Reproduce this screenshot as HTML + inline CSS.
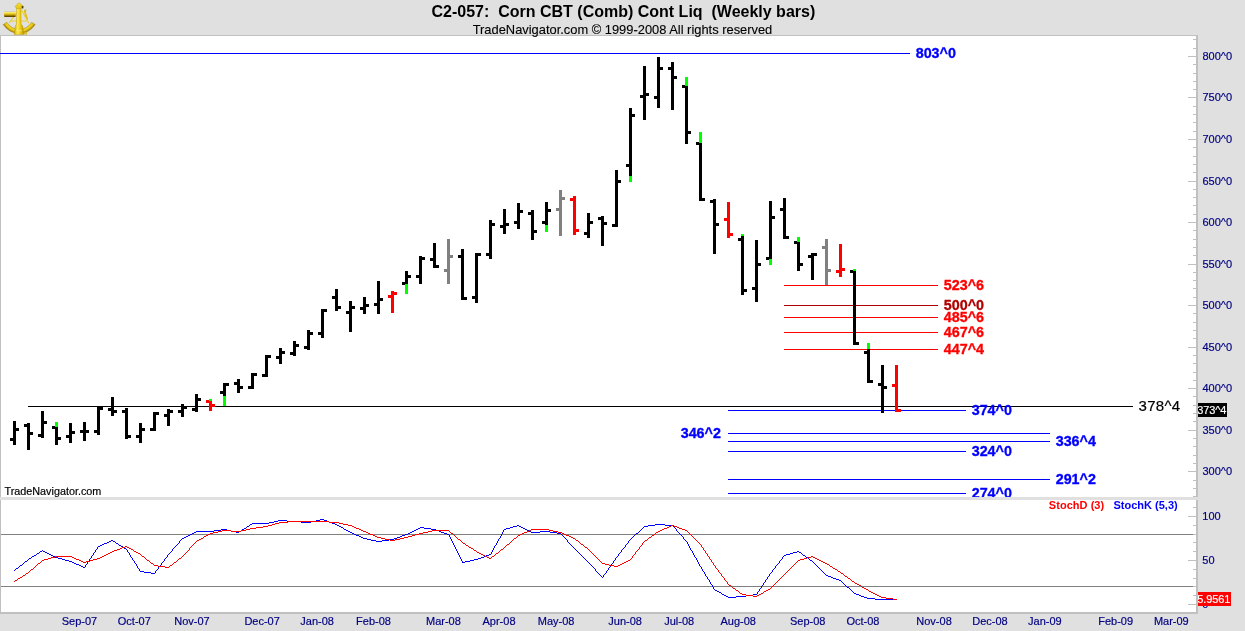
<!DOCTYPE html><html><head><meta charset="utf-8"><title>C2-057 Corn CBT</title>
<style>html,body{margin:0;padding:0;background:#e0e0e0;}svg{display:block;}text{font-family:"Liberation Sans",sans-serif;}</style>
</head><body>
<svg style="will-change:transform" width="1245" height="631" viewBox="0 0 1245 631">
<rect x="0" y="0" width="1245" height="631" fill="#e0e0e0"/>
<g shape-rendering="crispEdges">
<rect x="0" y="35" width="1198" height="462" fill="#c0c0c0"/>
<rect x="1" y="36" width="1195" height="461" fill="#fff"/>
<rect x="0" y="497" width="1245" height="3" fill="#e0e0e0"/>
<rect x="0" y="500" width="1198" height="114" fill="#c0c0c0"/>
<rect x="1" y="500" width="1195" height="112" fill="#fff"/>
<rect x="1193" y="39" width="3" height="1" fill="#c0c0c0"/>
<rect x="1193" y="48" width="3" height="1" fill="#c0c0c0"/>
<rect x="1188" y="56" width="8" height="1" fill="#c0c0c0"/>
<rect x="1193" y="64" width="3" height="1" fill="#c0c0c0"/>
<rect x="1193" y="73" width="3" height="1" fill="#c0c0c0"/>
<rect x="1193" y="81" width="3" height="1" fill="#c0c0c0"/>
<rect x="1193" y="89" width="3" height="1" fill="#c0c0c0"/>
<rect x="1188" y="97" width="8" height="1" fill="#c0c0c0"/>
<rect x="1193" y="106" width="3" height="1" fill="#c0c0c0"/>
<rect x="1193" y="114" width="3" height="1" fill="#c0c0c0"/>
<rect x="1193" y="122" width="3" height="1" fill="#c0c0c0"/>
<rect x="1193" y="131" width="3" height="1" fill="#c0c0c0"/>
<rect x="1188" y="139" width="8" height="1" fill="#c0c0c0"/>
<rect x="1193" y="147" width="3" height="1" fill="#c0c0c0"/>
<rect x="1193" y="156" width="3" height="1" fill="#c0c0c0"/>
<rect x="1193" y="164" width="3" height="1" fill="#c0c0c0"/>
<rect x="1193" y="172" width="3" height="1" fill="#c0c0c0"/>
<rect x="1188" y="181" width="8" height="1" fill="#c0c0c0"/>
<rect x="1193" y="189" width="3" height="1" fill="#c0c0c0"/>
<rect x="1193" y="197" width="3" height="1" fill="#c0c0c0"/>
<rect x="1193" y="205" width="3" height="1" fill="#c0c0c0"/>
<rect x="1193" y="214" width="3" height="1" fill="#c0c0c0"/>
<rect x="1188" y="222" width="8" height="1" fill="#c0c0c0"/>
<rect x="1193" y="230" width="3" height="1" fill="#c0c0c0"/>
<rect x="1193" y="239" width="3" height="1" fill="#c0c0c0"/>
<rect x="1193" y="247" width="3" height="1" fill="#c0c0c0"/>
<rect x="1193" y="255" width="3" height="1" fill="#c0c0c0"/>
<rect x="1188" y="264" width="8" height="1" fill="#c0c0c0"/>
<rect x="1193" y="272" width="3" height="1" fill="#c0c0c0"/>
<rect x="1193" y="280" width="3" height="1" fill="#c0c0c0"/>
<rect x="1193" y="288" width="3" height="1" fill="#c0c0c0"/>
<rect x="1193" y="297" width="3" height="1" fill="#c0c0c0"/>
<rect x="1188" y="305" width="8" height="1" fill="#c0c0c0"/>
<rect x="1193" y="313" width="3" height="1" fill="#c0c0c0"/>
<rect x="1193" y="322" width="3" height="1" fill="#c0c0c0"/>
<rect x="1193" y="330" width="3" height="1" fill="#c0c0c0"/>
<rect x="1193" y="338" width="3" height="1" fill="#c0c0c0"/>
<rect x="1188" y="347" width="8" height="1" fill="#c0c0c0"/>
<rect x="1193" y="355" width="3" height="1" fill="#c0c0c0"/>
<rect x="1193" y="363" width="3" height="1" fill="#c0c0c0"/>
<rect x="1193" y="372" width="3" height="1" fill="#c0c0c0"/>
<rect x="1193" y="380" width="3" height="1" fill="#c0c0c0"/>
<rect x="1188" y="388" width="8" height="1" fill="#c0c0c0"/>
<rect x="1193" y="396" width="3" height="1" fill="#c0c0c0"/>
<rect x="1193" y="405" width="3" height="1" fill="#c0c0c0"/>
<rect x="1193" y="413" width="3" height="1" fill="#c0c0c0"/>
<rect x="1193" y="421" width="3" height="1" fill="#c0c0c0"/>
<rect x="1188" y="430" width="8" height="1" fill="#c0c0c0"/>
<rect x="1193" y="438" width="3" height="1" fill="#c0c0c0"/>
<rect x="1193" y="446" width="3" height="1" fill="#c0c0c0"/>
<rect x="1193" y="455" width="3" height="1" fill="#c0c0c0"/>
<rect x="1193" y="463" width="3" height="1" fill="#c0c0c0"/>
<rect x="1188" y="471" width="8" height="1" fill="#c0c0c0"/>
<rect x="1193" y="480" width="3" height="1" fill="#c0c0c0"/>
<rect x="1193" y="488" width="3" height="1" fill="#c0c0c0"/>
<rect x="1193" y="496" width="3" height="1" fill="#c0c0c0"/>
<rect x="1193" y="507" width="3" height="1" fill="#c0c0c0"/>
<rect x="1188" y="516" width="8" height="1" fill="#c0c0c0"/>
<rect x="1193" y="525" width="3" height="1" fill="#c0c0c0"/>
<rect x="1193" y="534" width="3" height="1" fill="#c0c0c0"/>
<rect x="1193" y="542" width="3" height="1" fill="#c0c0c0"/>
<rect x="1193" y="551" width="3" height="1" fill="#c0c0c0"/>
<rect x="1188" y="560" width="8" height="1" fill="#c0c0c0"/>
<rect x="1193" y="569" width="3" height="1" fill="#c0c0c0"/>
<rect x="1193" y="578" width="3" height="1" fill="#c0c0c0"/>
<rect x="1193" y="586" width="3" height="1" fill="#c0c0c0"/>
<rect x="1193" y="595" width="3" height="1" fill="#c0c0c0"/>
<rect x="1188" y="604" width="8" height="1" fill="#c0c0c0"/>
<rect x="1" y="534" width="1192" height="1" fill="#808080"/>
<rect x="1" y="586" width="1192" height="1" fill="#808080"/>
<rect x="0" y="53" width="910" height="1" fill="#0000ff"/>
<rect x="28" y="406" width="1105" height="1" fill="#000"/>
<rect x="784" y="285" width="154" height="1" fill="#ff0000"/>
<rect x="784" y="305" width="154" height="1" fill="#b00000"/>
<rect x="784" y="317" width="154" height="1" fill="#ff0000"/>
<rect x="784" y="332" width="154" height="1" fill="#ff0000"/>
<rect x="784" y="349" width="154" height="1" fill="#ff0000"/>
<rect x="728" y="410" width="238" height="1" fill="#0000ff"/>
<rect x="728" y="433" width="322" height="1" fill="#0000ff"/>
<rect x="728" y="441" width="322" height="1" fill="#0000ff"/>
<rect x="728" y="451" width="238" height="1" fill="#0000ff"/>
<rect x="728" y="479" width="322" height="1" fill="#0000ff"/>
<rect x="728" y="493" width="238" height="1" fill="#0000ff"/>
<rect x="13" y="421" width="3" height="24" fill="#000"/>
<rect x="10" y="438" width="3" height="3" fill="#000"/>
<rect x="16" y="428" width="3" height="3" fill="#000"/>
<rect x="27" y="423" width="3" height="27" fill="#000"/>
<rect x="24" y="424" width="3" height="3" fill="#000"/>
<rect x="30" y="432" width="3" height="3" fill="#000"/>
<rect x="41" y="411" width="3" height="27" fill="#000"/>
<rect x="38" y="434" width="3" height="3" fill="#000"/>
<rect x="44" y="421" width="3" height="3" fill="#000"/>
<rect x="55" y="422" width="3" height="23" fill="#000"/>
<rect x="55" y="422" width="3" height="5" fill="#00ff00"/>
<rect x="52" y="426" width="3" height="3" fill="#000"/>
<rect x="58" y="437" width="3" height="3" fill="#000"/>
<rect x="69" y="423" width="3" height="20" fill="#000"/>
<rect x="66" y="435" width="3" height="3" fill="#000"/>
<rect x="72" y="431" width="3" height="3" fill="#000"/>
<rect x="83" y="422" width="3" height="19" fill="#000"/>
<rect x="80" y="430" width="3" height="3" fill="#000"/>
<rect x="86" y="430" width="3" height="3" fill="#000"/>
<rect x="97" y="407" width="3" height="28" fill="#000"/>
<rect x="94" y="430" width="3" height="3" fill="#000"/>
<rect x="100" y="407" width="3" height="3" fill="#000"/>
<rect x="111" y="397" width="3" height="19" fill="#000"/>
<rect x="108" y="408" width="3" height="3" fill="#000"/>
<rect x="114" y="410" width="3" height="3" fill="#000"/>
<rect x="125" y="408" width="3" height="31" fill="#000"/>
<rect x="122" y="410" width="3" height="3" fill="#000"/>
<rect x="128" y="435" width="3" height="3" fill="#000"/>
<rect x="139" y="423" width="3" height="20" fill="#000"/>
<rect x="136" y="435" width="3" height="3" fill="#000"/>
<rect x="142" y="428" width="3" height="3" fill="#000"/>
<rect x="153" y="412" width="3" height="19" fill="#000"/>
<rect x="150" y="428" width="3" height="3" fill="#000"/>
<rect x="156" y="412" width="3" height="3" fill="#000"/>
<rect x="167" y="409" width="3" height="17" fill="#000"/>
<rect x="164" y="414" width="3" height="3" fill="#000"/>
<rect x="170" y="410" width="3" height="3" fill="#000"/>
<rect x="181" y="404" width="3" height="13" fill="#000"/>
<rect x="178" y="410" width="3" height="3" fill="#000"/>
<rect x="184" y="406" width="3" height="3" fill="#000"/>
<rect x="195" y="394" width="3" height="18" fill="#000"/>
<rect x="192" y="408" width="3" height="3" fill="#000"/>
<rect x="198" y="398" width="3" height="3" fill="#000"/>
<rect x="209" y="399" width="3" height="12" fill="#ff0000"/>
<rect x="209" y="399" width="3" height="2" fill="#00ff00"/>
<rect x="206" y="400" width="3" height="3" fill="#ff0000"/>
<rect x="212" y="404" width="3" height="3" fill="#ff0000"/>
<rect x="223" y="383" width="3" height="23" fill="#000"/>
<rect x="223" y="396" width="3" height="10" fill="#00ff00"/>
<rect x="220" y="391" width="3" height="3" fill="#000"/>
<rect x="226" y="383" width="3" height="3" fill="#000"/>
<rect x="237" y="379" width="3" height="14" fill="#000"/>
<rect x="234" y="382" width="3" height="3" fill="#000"/>
<rect x="240" y="386" width="3" height="3" fill="#000"/>
<rect x="251" y="373" width="3" height="16" fill="#000"/>
<rect x="248" y="386" width="3" height="3" fill="#000"/>
<rect x="254" y="373" width="3" height="3" fill="#000"/>
<rect x="265" y="355" width="3" height="22" fill="#000"/>
<rect x="262" y="374" width="3" height="3" fill="#000"/>
<rect x="268" y="355" width="3" height="3" fill="#000"/>
<rect x="279" y="348" width="3" height="16" fill="#000"/>
<rect x="276" y="356" width="3" height="3" fill="#000"/>
<rect x="282" y="351" width="3" height="3" fill="#000"/>
<rect x="293" y="341" width="3" height="15" fill="#000"/>
<rect x="290" y="352" width="3" height="3" fill="#000"/>
<rect x="296" y="344" width="3" height="3" fill="#000"/>
<rect x="307" y="330" width="3" height="20" fill="#000"/>
<rect x="304" y="346" width="3" height="3" fill="#000"/>
<rect x="310" y="332" width="3" height="3" fill="#000"/>
<rect x="321" y="309" width="3" height="29" fill="#000"/>
<rect x="318" y="332" width="3" height="3" fill="#000"/>
<rect x="324" y="309" width="3" height="3" fill="#000"/>
<rect x="335" y="289" width="3" height="22" fill="#000"/>
<rect x="332" y="296" width="3" height="3" fill="#000"/>
<rect x="338" y="306" width="3" height="3" fill="#000"/>
<rect x="349" y="301" width="3" height="31" fill="#000"/>
<rect x="346" y="311" width="3" height="3" fill="#000"/>
<rect x="352" y="306" width="3" height="3" fill="#000"/>
<rect x="363" y="297" width="3" height="17" fill="#000"/>
<rect x="360" y="307" width="3" height="3" fill="#000"/>
<rect x="366" y="304" width="3" height="3" fill="#000"/>
<rect x="377" y="281" width="3" height="33" fill="#000"/>
<rect x="374" y="303" width="3" height="3" fill="#000"/>
<rect x="380" y="298" width="3" height="3" fill="#000"/>
<rect x="391" y="291" width="3" height="22" fill="#ff0000"/>
<rect x="388" y="295" width="3" height="3" fill="#ff0000"/>
<rect x="394" y="292" width="3" height="3" fill="#ff0000"/>
<rect x="405" y="271" width="3" height="23" fill="#000"/>
<rect x="405" y="284" width="3" height="10" fill="#00ff00"/>
<rect x="402" y="282" width="3" height="3" fill="#000"/>
<rect x="408" y="275" width="3" height="3" fill="#000"/>
<rect x="419" y="256" width="3" height="28" fill="#000"/>
<rect x="416" y="275" width="3" height="3" fill="#000"/>
<rect x="422" y="257" width="3" height="3" fill="#000"/>
<rect x="433" y="243" width="3" height="25" fill="#000"/>
<rect x="430" y="258" width="3" height="3" fill="#000"/>
<rect x="436" y="265" width="3" height="3" fill="#000"/>
<rect x="447" y="239" width="3" height="45" fill="#808080"/>
<rect x="444" y="269" width="3" height="3" fill="#808080"/>
<rect x="450" y="255" width="3" height="3" fill="#808080"/>
<rect x="461" y="249" width="3" height="51" fill="#000"/>
<rect x="458" y="255" width="3" height="3" fill="#000"/>
<rect x="464" y="297" width="3" height="3" fill="#000"/>
<rect x="475" y="253" width="3" height="50" fill="#000"/>
<rect x="472" y="296" width="3" height="3" fill="#000"/>
<rect x="478" y="253" width="3" height="3" fill="#000"/>
<rect x="489" y="220" width="3" height="39" fill="#000"/>
<rect x="486" y="253" width="3" height="3" fill="#000"/>
<rect x="492" y="223" width="3" height="3" fill="#000"/>
<rect x="503" y="209" width="3" height="25" fill="#000"/>
<rect x="500" y="225" width="3" height="3" fill="#000"/>
<rect x="506" y="223" width="3" height="3" fill="#000"/>
<rect x="517" y="203" width="3" height="26" fill="#000"/>
<rect x="514" y="221" width="3" height="3" fill="#000"/>
<rect x="520" y="210" width="3" height="3" fill="#000"/>
<rect x="531" y="210" width="3" height="30" fill="#000"/>
<rect x="528" y="212" width="3" height="3" fill="#000"/>
<rect x="534" y="230" width="3" height="3" fill="#000"/>
<rect x="545" y="202" width="3" height="30" fill="#000"/>
<rect x="545" y="225" width="3" height="7" fill="#00ff00"/>
<rect x="542" y="221" width="3" height="3" fill="#000"/>
<rect x="548" y="209" width="3" height="3" fill="#000"/>
<rect x="559" y="190" width="3" height="46" fill="#808080"/>
<rect x="556" y="208" width="3" height="3" fill="#808080"/>
<rect x="562" y="197" width="3" height="3" fill="#808080"/>
<rect x="573" y="196" width="3" height="39" fill="#ff0000"/>
<rect x="570" y="198" width="3" height="3" fill="#ff0000"/>
<rect x="576" y="229" width="3" height="3" fill="#ff0000"/>
<rect x="587" y="213" width="3" height="25" fill="#000"/>
<rect x="584" y="232" width="3" height="3" fill="#000"/>
<rect x="590" y="221" width="3" height="3" fill="#000"/>
<rect x="601" y="216" width="3" height="30" fill="#000"/>
<rect x="598" y="217" width="3" height="3" fill="#000"/>
<rect x="604" y="222" width="3" height="3" fill="#000"/>
<rect x="615" y="170" width="3" height="57" fill="#000"/>
<rect x="612" y="224" width="3" height="3" fill="#000"/>
<rect x="618" y="180" width="3" height="3" fill="#000"/>
<rect x="629" y="108" width="3" height="74" fill="#000"/>
<rect x="629" y="176" width="3" height="6" fill="#00ff00"/>
<rect x="626" y="164" width="3" height="3" fill="#000"/>
<rect x="632" y="114" width="3" height="3" fill="#000"/>
<rect x="643" y="66" width="3" height="54" fill="#000"/>
<rect x="640" y="95" width="3" height="3" fill="#000"/>
<rect x="646" y="93" width="3" height="3" fill="#000"/>
<rect x="657" y="57" width="3" height="51" fill="#000"/>
<rect x="654" y="96" width="3" height="3" fill="#000"/>
<rect x="660" y="67" width="3" height="3" fill="#000"/>
<rect x="671" y="62" width="3" height="48" fill="#000"/>
<rect x="668" y="67" width="3" height="3" fill="#000"/>
<rect x="674" y="76" width="3" height="3" fill="#000"/>
<rect x="685" y="77" width="3" height="67" fill="#000"/>
<rect x="685" y="77" width="3" height="9" fill="#00ff00"/>
<rect x="682" y="85" width="3" height="3" fill="#000"/>
<rect x="688" y="131" width="3" height="3" fill="#000"/>
<rect x="699" y="132" width="3" height="69" fill="#000"/>
<rect x="699" y="132" width="3" height="11" fill="#00ff00"/>
<rect x="696" y="142" width="3" height="3" fill="#000"/>
<rect x="702" y="198" width="3" height="3" fill="#000"/>
<rect x="713" y="199" width="3" height="55" fill="#000"/>
<rect x="710" y="200" width="3" height="3" fill="#000"/>
<rect x="716" y="223" width="3" height="3" fill="#000"/>
<rect x="727" y="202" width="3" height="36" fill="#ff0000"/>
<rect x="724" y="218" width="3" height="3" fill="#ff0000"/>
<rect x="730" y="233" width="3" height="3" fill="#ff0000"/>
<rect x="741" y="234" width="3" height="61" fill="#000"/>
<rect x="741" y="234" width="3" height="2" fill="#00ff00"/>
<rect x="738" y="238" width="3" height="3" fill="#000"/>
<rect x="744" y="289" width="3" height="3" fill="#000"/>
<rect x="755" y="240" width="3" height="62" fill="#000"/>
<rect x="752" y="287" width="3" height="3" fill="#000"/>
<rect x="758" y="263" width="3" height="3" fill="#000"/>
<rect x="769" y="201" width="3" height="64" fill="#000"/>
<rect x="769" y="259" width="3" height="6" fill="#00ff00"/>
<rect x="766" y="257" width="3" height="3" fill="#000"/>
<rect x="772" y="216" width="3" height="3" fill="#000"/>
<rect x="783" y="198" width="3" height="41" fill="#000"/>
<rect x="780" y="208" width="3" height="3" fill="#000"/>
<rect x="786" y="236" width="3" height="3" fill="#000"/>
<rect x="797" y="237" width="3" height="34" fill="#000"/>
<rect x="797" y="237" width="3" height="5" fill="#00ff00"/>
<rect x="794" y="241" width="3" height="3" fill="#000"/>
<rect x="800" y="263" width="3" height="3" fill="#000"/>
<rect x="811" y="253" width="3" height="27" fill="#000"/>
<rect x="808" y="255" width="3" height="3" fill="#000"/>
<rect x="814" y="253" width="3" height="3" fill="#000"/>
<rect x="825" y="239" width="3" height="46" fill="#808080"/>
<rect x="822" y="246" width="3" height="3" fill="#808080"/>
<rect x="828" y="269" width="3" height="3" fill="#808080"/>
<rect x="839" y="244" width="3" height="33" fill="#ff0000"/>
<rect x="836" y="270" width="3" height="3" fill="#ff0000"/>
<rect x="842" y="268" width="3" height="3" fill="#ff0000"/>
<rect x="853" y="269" width="3" height="76" fill="#000"/>
<rect x="853" y="269" width="3" height="2" fill="#00ff00"/>
<rect x="850" y="270" width="3" height="3" fill="#000"/>
<rect x="856" y="342" width="3" height="3" fill="#000"/>
<rect x="867" y="343" width="3" height="40" fill="#000"/>
<rect x="867" y="343" width="3" height="6" fill="#00ff00"/>
<rect x="864" y="351" width="3" height="3" fill="#000"/>
<rect x="870" y="380" width="3" height="3" fill="#000"/>
<rect x="881" y="365" width="3" height="48" fill="#000"/>
<rect x="878" y="383" width="3" height="3" fill="#000"/>
<rect x="884" y="386" width="3" height="3" fill="#000"/>
<rect x="895" y="365" width="3" height="47" fill="#ff0000"/>
<rect x="892" y="384" width="3" height="3" fill="#ff0000"/>
<rect x="898" y="409" width="3" height="3" fill="#ff0000"/>
</g>
<path d="M320 519h4v1h-4zM278 520h9v1h-9zM316 520h4v1h-4zM324 520h3v1h-3zM274 521h4v1h-4zM287 521h14v1h-14zM311 521h5v1h-5zM327 521h2v1h-2zM269 522h5v1h-5zM301 522h10v1h-10zM329 522h3v1h-3zM252 523h17v1h-17zM332 523h3v1h-3zM250 524h2v1h-2zM335 524h2v1h-2zM655 524h10v1h-10zM249 525h1v1h-1zM337 525h2v1h-2zM517 525h2v1h-2zM648 525h7v1h-7zM665 525h8v1h-8zM247 526h2v1h-2zM339 526h2v1h-2zM513 526h4v1h-4zM519 526h2v1h-2zM644 526h4v1h-4zM673 526h1v1h-1zM246 527h1v1h-1zM341 527h2v1h-2zM420 527h4v1h-4zM510 527h3v1h-3zM521 527h2v1h-2zM643 527h1v1h-1zM674 527h1v1h-1zM244 528h2v1h-2zM343 528h1v1h-1zM418 528h2v1h-2zM424 528h7v1h-7zM506 528h4v1h-4zM523 528h2v1h-2zM642 528h1v1h-1zM675 528h1v1h-1zM221 529h6v1h-6zM242 529h2v1h-2zM344 529h2v1h-2zM416 529h2v1h-2zM431 529h5v1h-5zM504 529h2v1h-2zM525 529h2v1h-2zM641 529h1v1h-1zM676 529h1v1h-1zM214 530h7v1h-7zM227 530h4v1h-4zM241 530h1v1h-1zM346 530h2v1h-2zM414 530h2v1h-2zM436 530h3v1h-3zM503 530h1v1h-1zM527 530h2v1h-2zM640 530h1v1h-1zM676 530h1v1h-1zM196 531h18v1h-18zM231 531h5v1h-5zM239 531h2v1h-2zM348 531h2v1h-2zM412 531h2v1h-2zM439 531h2v1h-2zM503 531h1v1h-1zM529 531h2v1h-2zM540 531h10v1h-10zM639 531h1v1h-1zM677 531h1v1h-1zM194 532h2v1h-2zM236 532h3v1h-3zM350 532h2v1h-2zM410 532h2v1h-2zM441 532h3v1h-3zM502 532h1v1h-1zM531 532h9v1h-9zM550 532h7v1h-7zM638 532h1v1h-1zM678 532h1v1h-1zM192 533h2v1h-2zM352 533h2v1h-2zM408 533h2v1h-2zM444 533h3v1h-3zM502 533h1v1h-1zM557 533h4v1h-4zM636 533h2v1h-2zM679 533h1v1h-1zM190 534h2v1h-2zM354 534h2v1h-2zM405 534h3v1h-3zM447 534h2v1h-2zM501 534h1v1h-1zM561 534h1v1h-1zM635 534h1v1h-1zM680 534h1v1h-1zM188 535h2v1h-2zM356 535h3v1h-3zM402 535h3v1h-3zM449 535h1v1h-1zM501 535h1v1h-1zM562 535h1v1h-1zM634 535h1v1h-1zM681 535h1v1h-1zM186 536h2v1h-2zM359 536h2v1h-2zM400 536h2v1h-2zM449 536h1v1h-1zM500 536h1v1h-1zM563 536h1v1h-1zM633 536h1v1h-1zM682 536h1v1h-1zM184 537h2v1h-2zM361 537h2v1h-2zM397 537h3v1h-3zM450 537h1v1h-1zM500 537h1v1h-1zM564 537h1v1h-1zM632 537h1v1h-1zM683 537h1v1h-1zM182 538h2v1h-2zM363 538h4v1h-4zM394 538h3v1h-3zM450 538h1v1h-1zM499 538h1v1h-1zM565 538h1v1h-1zM631 538h1v1h-1zM683 538h1v1h-1zM181 539h1v1h-1zM367 539h4v1h-4zM389 539h5v1h-5zM451 539h1v1h-1zM498 539h1v1h-1zM566 539h1v1h-1zM630 539h1v1h-1zM684 539h1v1h-1zM111 540h2v1h-2zM180 540h1v1h-1zM371 540h5v1h-5zM382 540h7v1h-7zM451 540h1v1h-1zM498 540h1v1h-1zM567 540h1v1h-1zM629 540h1v1h-1zM685 540h1v1h-1zM109 541h2v1h-2zM113 541h2v1h-2zM179 541h1v1h-1zM376 541h6v1h-6zM452 541h1v1h-1zM497 541h1v1h-1zM567 541h1v1h-1zM628 541h1v1h-1zM686 541h1v1h-1zM107 542h2v1h-2zM115 542h1v1h-1zM179 542h1v1h-1zM452 542h1v1h-1zM497 542h1v1h-1zM568 542h1v1h-1zM628 542h1v1h-1zM687 542h1v1h-1zM104 543h3v1h-3zM116 543h2v1h-2zM178 543h1v1h-1zM453 543h1v1h-1zM496 543h1v1h-1zM569 543h1v1h-1zM627 543h1v1h-1zM687 543h1v1h-1zM102 544h2v1h-2zM118 544h1v1h-1zM177 544h1v1h-1zM453 544h1v1h-1zM496 544h1v1h-1zM570 544h1v1h-1zM626 544h1v1h-1zM688 544h1v1h-1zM100 545h2v1h-2zM119 545h2v1h-2zM176 545h1v1h-1zM454 545h1v1h-1zM495 545h1v1h-1zM571 545h1v1h-1zM625 545h1v1h-1zM688 545h1v1h-1zM98 546h2v1h-2zM121 546h2v1h-2zM175 546h1v1h-1zM454 546h1v1h-1zM494 546h1v1h-1zM572 546h1v1h-1zM625 546h1v1h-1zM689 546h1v1h-1zM97 547h1v1h-1zM123 547h1v1h-1zM174 547h1v1h-1zM455 547h1v1h-1zM494 547h1v1h-1zM573 547h1v1h-1zM624 547h1v1h-1zM689 547h1v1h-1zM97 548h1v1h-1zM124 548h2v1h-2zM173 548h1v1h-1zM455 548h1v1h-1zM493 548h1v1h-1zM574 548h1v1h-1zM623 548h1v1h-1zM690 548h1v1h-1zM96 549h1v1h-1zM126 549h1v1h-1zM172 549h1v1h-1zM456 549h1v1h-1zM493 549h1v1h-1zM575 549h1v1h-1zM622 549h1v1h-1zM690 549h1v1h-1zM42 550h1v1h-1zM95 550h1v1h-1zM127 550h1v1h-1zM172 550h1v1h-1zM456 550h1v1h-1zM492 550h1v1h-1zM576 550h1v1h-1zM621 550h1v1h-1zM691 550h1v1h-1zM40 551h2v1h-2zM43 551h2v1h-2zM95 551h1v1h-1zM127 551h1v1h-1zM171 551h1v1h-1zM457 551h1v1h-1zM492 551h1v1h-1zM577 551h1v1h-1zM621 551h1v1h-1zM692 551h1v1h-1zM797 551h2v1h-2zM39 552h1v1h-1zM45 552h2v1h-2zM94 552h1v1h-1zM128 552h1v1h-1zM170 552h1v1h-1zM457 552h1v1h-1zM491 552h1v1h-1zM578 552h1v1h-1zM620 552h1v1h-1zM692 552h1v1h-1zM793 552h4v1h-4zM799 552h2v1h-2zM37 553h2v1h-2zM47 553h2v1h-2zM93 553h1v1h-1zM129 553h1v1h-1zM169 553h1v1h-1zM458 553h1v1h-1zM491 553h1v1h-1zM579 553h1v1h-1zM619 553h1v1h-1zM693 553h1v1h-1zM790 553h3v1h-3zM801 553h1v1h-1zM36 554h1v1h-1zM49 554h2v1h-2zM93 554h1v1h-1zM129 554h1v1h-1zM168 554h1v1h-1zM458 554h1v1h-1zM489 554h2v1h-2zM580 554h1v1h-1zM618 554h1v1h-1zM693 554h1v1h-1zM786 554h4v1h-4zM802 554h1v1h-1zM34 555h2v1h-2zM51 555h2v1h-2zM92 555h1v1h-1zM130 555h1v1h-1zM167 555h1v1h-1zM459 555h1v1h-1zM486 555h3v1h-3zM581 555h1v1h-1zM618 555h1v1h-1zM694 555h1v1h-1zM784 555h2v1h-2zM803 555h2v1h-2zM32 556h2v1h-2zM53 556h2v1h-2zM91 556h1v1h-1zM130 556h1v1h-1zM167 556h1v1h-1zM459 556h1v1h-1zM484 556h2v1h-2zM582 556h1v1h-1zM617 556h1v1h-1zM694 556h1v1h-1zM783 556h1v1h-1zM805 556h1v1h-1zM31 557h1v1h-1zM55 557h3v1h-3zM91 557h1v1h-1zM131 557h1v1h-1zM166 557h1v1h-1zM460 557h1v1h-1zM481 557h3v1h-3zM583 557h1v1h-1zM616 557h1v1h-1zM695 557h1v1h-1zM782 557h1v1h-1zM806 557h2v1h-2zM29 558h2v1h-2zM58 558h4v1h-4zM90 558h1v1h-1zM132 558h1v1h-1zM165 558h1v1h-1zM460 558h1v1h-1zM478 558h3v1h-3zM584 558h1v1h-1zM615 558h1v1h-1zM696 558h1v1h-1zM782 558h1v1h-1zM808 558h1v1h-1zM28 559h1v1h-1zM62 559h3v1h-3zM89 559h1v1h-1zM132 559h1v1h-1zM164 559h1v1h-1zM461 559h1v1h-1zM474 559h4v1h-4zM585 559h1v1h-1zM615 559h1v1h-1zM696 559h1v1h-1zM781 559h1v1h-1zM809 559h1v1h-1zM27 560h1v1h-1zM65 560h4v1h-4zM89 560h1v1h-1zM133 560h1v1h-1zM164 560h1v1h-1zM461 560h1v1h-1zM470 560h4v1h-4zM586 560h1v1h-1zM614 560h1v1h-1zM697 560h1v1h-1zM780 560h1v1h-1zM810 560h2v1h-2zM25 561h2v1h-2zM69 561h3v1h-3zM88 561h1v1h-1zM134 561h1v1h-1zM163 561h1v1h-1zM462 561h1v1h-1zM465 561h5v1h-5zM587 561h1v1h-1zM613 561h1v1h-1zM697 561h1v1h-1zM779 561h1v1h-1zM812 561h1v1h-1zM24 562h1v1h-1zM72 562h2v1h-2zM87 562h1v1h-1zM134 562h1v1h-1zM162 562h1v1h-1zM462 562h3v1h-3zM588 562h1v1h-1zM613 562h1v1h-1zM698 562h1v1h-1zM779 562h1v1h-1zM813 562h1v1h-1zM23 563h1v1h-1zM74 563h2v1h-2zM87 563h1v1h-1zM135 563h1v1h-1zM161 563h1v1h-1zM589 563h1v1h-1zM612 563h1v1h-1zM698 563h1v1h-1zM778 563h1v1h-1zM814 563h1v1h-1zM22 564h1v1h-1zM76 564h3v1h-3zM86 564h1v1h-1zM136 564h1v1h-1zM161 564h1v1h-1zM590 564h1v1h-1zM611 564h1v1h-1zM699 564h1v1h-1zM777 564h1v1h-1zM815 564h1v1h-1zM20 565h2v1h-2zM79 565h2v1h-2zM85 565h1v1h-1zM136 565h1v1h-1zM160 565h1v1h-1zM591 565h1v1h-1zM610 565h1v1h-1zM699 565h1v1h-1zM776 565h1v1h-1zM816 565h1v1h-1zM19 566h1v1h-1zM81 566h2v1h-2zM85 566h1v1h-1zM137 566h1v1h-1zM159 566h1v1h-1zM592 566h1v1h-1zM610 566h1v1h-1zM700 566h1v1h-1zM775 566h1v1h-1zM817 566h1v1h-1zM18 567h1v1h-1zM83 567h2v1h-2zM137 567h1v1h-1zM158 567h1v1h-1zM593 567h1v1h-1zM609 567h1v1h-1zM701 567h1v1h-1zM775 567h1v1h-1zM818 567h1v1h-1zM16 568h2v1h-2zM138 568h1v1h-1zM158 568h1v1h-1zM594 568h1v1h-1zM608 568h1v1h-1zM701 568h1v1h-1zM774 568h1v1h-1zM819 568h1v1h-1zM15 569h1v1h-1zM139 569h1v1h-1zM157 569h1v1h-1zM595 569h1v1h-1zM608 569h1v1h-1zM702 569h1v1h-1zM773 569h1v1h-1zM820 569h1v1h-1zM14 570h1v1h-1zM139 570h1v1h-1zM156 570h1v1h-1zM595 570h1v1h-1zM607 570h1v1h-1zM702 570h1v1h-1zM772 570h1v1h-1zM821 570h1v1h-1zM140 571h4v1h-4zM155 571h1v1h-1zM596 571h1v1h-1zM606 571h1v1h-1zM703 571h1v1h-1zM772 571h1v1h-1zM822 571h1v1h-1zM144 572h7v1h-7zM155 572h1v1h-1zM597 572h1v1h-1zM606 572h1v1h-1zM704 572h1v1h-1zM771 572h1v1h-1zM823 572h1v1h-1zM151 573h4v1h-4zM598 573h1v1h-1zM605 573h1v1h-1zM704 573h1v1h-1zM770 573h1v1h-1zM824 573h1v1h-1zM599 574h1v1h-1zM604 574h1v1h-1zM705 574h1v1h-1zM769 574h1v1h-1zM825 574h1v1h-1zM600 575h1v1h-1zM603 575h1v1h-1zM705 575h1v1h-1zM769 575h1v1h-1zM826 575h2v1h-2zM601 576h1v1h-1zM603 576h1v1h-1zM706 576h1v1h-1zM768 576h1v1h-1zM828 576h3v1h-3zM602 577h1v1h-1zM707 577h1v1h-1zM767 577h1v1h-1zM831 577h2v1h-2zM707 578h1v1h-1zM767 578h1v1h-1zM833 578h3v1h-3zM708 579h1v1h-1zM766 579h1v1h-1zM836 579h3v1h-3zM709 580h1v1h-1zM765 580h1v1h-1zM839 580h2v1h-2zM709 581h1v1h-1zM765 581h1v1h-1zM841 581h1v1h-1zM710 582h1v1h-1zM764 582h1v1h-1zM842 582h1v1h-1zM710 583h1v1h-1zM763 583h1v1h-1zM843 583h1v1h-1zM711 584h1v1h-1zM763 584h1v1h-1zM844 584h1v1h-1zM712 585h1v1h-1zM762 585h1v1h-1zM845 585h1v1h-1zM712 586h1v1h-1zM761 586h1v1h-1zM846 586h1v1h-1zM713 587h1v1h-1zM761 587h1v1h-1zM847 587h2v1h-2zM713 588h1v1h-1zM760 588h1v1h-1zM849 588h1v1h-1zM714 589h1v1h-1zM759 589h1v1h-1zM850 589h1v1h-1zM715 590h2v1h-2zM759 590h1v1h-1zM851 590h1v1h-1zM717 591h2v1h-2zM758 591h1v1h-1zM852 591h1v1h-1zM719 592h2v1h-2zM757 592h1v1h-1zM853 592h1v1h-1zM721 593h1v1h-1zM757 593h1v1h-1zM854 593h2v1h-2zM722 594h2v1h-2zM753 594h4v1h-4zM856 594h3v1h-3zM724 595h2v1h-2zM746 595h7v1h-7zM859 595h2v1h-2zM726 596h2v1h-2zM736 596h10v1h-10zM861 596h3v1h-3zM728 597h8v1h-8zM864 597h3v1h-3zM867 598h8v1h-8zM875 599h22v1h-22z" fill="#0000ff" shape-rendering="crispEdges"/>
<path d="M288 521h41v1h-41zM279 522h9v1h-9zM329 522h10v1h-10zM275 523h4v1h-4zM339 523h4v1h-4zM272 524h3v1h-3zM343 524h5v1h-5zM268 525h4v1h-4zM348 525h4v1h-4zM671 525h3v1h-3zM263 526h5v1h-5zM352 526h2v1h-2zM669 526h2v1h-2zM674 526h3v1h-3zM256 527h7v1h-7zM354 527h2v1h-2zM667 527h2v1h-2zM677 527h2v1h-2zM250 528h6v1h-6zM356 528h3v1h-3zM664 528h3v1h-3zM679 528h3v1h-3zM246 529h4v1h-4zM359 529h2v1h-2zM531 529h18v1h-18zM662 529h2v1h-2zM682 529h3v1h-3zM222 530h9v1h-9zM241 530h5v1h-5zM361 530h2v1h-2zM432 530h17v1h-17zM529 530h2v1h-2zM549 530h4v1h-4zM660 530h2v1h-2zM685 530h2v1h-2zM218 531h4v1h-4zM231 531h10v1h-10zM363 531h3v1h-3zM428 531h4v1h-4zM449 531h1v1h-1zM527 531h2v1h-2zM553 531h5v1h-5zM658 531h2v1h-2zM687 531h1v1h-1zM213 532h5v1h-5zM366 532h2v1h-2zM423 532h5v1h-5zM450 532h1v1h-1zM524 532h3v1h-3zM558 532h4v1h-4zM656 532h2v1h-2zM688 532h1v1h-1zM210 533h3v1h-3zM368 533h2v1h-2zM419 533h4v1h-4zM451 533h2v1h-2zM522 533h2v1h-2zM562 533h2v1h-2zM655 533h1v1h-1zM689 533h1v1h-1zM208 534h2v1h-2zM370 534h3v1h-3zM415 534h4v1h-4zM453 534h1v1h-1zM520 534h2v1h-2zM564 534h2v1h-2zM654 534h1v1h-1zM690 534h1v1h-1zM206 535h2v1h-2zM373 535h2v1h-2zM412 535h3v1h-3zM454 535h1v1h-1zM518 535h2v1h-2zM566 535h3v1h-3zM652 535h2v1h-2zM691 535h1v1h-1zM204 536h2v1h-2zM375 536h2v1h-2zM408 536h4v1h-4zM455 536h1v1h-1zM517 536h1v1h-1zM569 536h2v1h-2zM651 536h1v1h-1zM692 536h1v1h-1zM203 537h1v1h-1zM377 537h4v1h-4zM404 537h4v1h-4zM456 537h1v1h-1zM516 537h1v1h-1zM571 537h2v1h-2zM649 537h2v1h-2zM693 537h1v1h-1zM201 538h2v1h-2zM381 538h4v1h-4zM400 538h4v1h-4zM457 538h1v1h-1zM514 538h2v1h-2zM573 538h2v1h-2zM648 538h1v1h-1zM694 538h1v1h-1zM199 539h2v1h-2zM385 539h5v1h-5zM395 539h5v1h-5zM458 539h2v1h-2zM513 539h1v1h-1zM575 539h1v1h-1zM647 539h1v1h-1zM695 539h1v1h-1zM197 540h2v1h-2zM390 540h5v1h-5zM460 540h1v1h-1zM512 540h1v1h-1zM576 540h2v1h-2zM645 540h2v1h-2zM696 540h1v1h-1zM196 541h1v1h-1zM461 541h1v1h-1zM511 541h1v1h-1zM578 541h1v1h-1zM644 541h1v1h-1zM697 541h1v1h-1zM195 542h1v1h-1zM462 542h1v1h-1zM510 542h1v1h-1zM579 542h1v1h-1zM643 542h1v1h-1zM698 542h1v1h-1zM194 543h1v1h-1zM463 543h2v1h-2zM509 543h1v1h-1zM580 543h1v1h-1zM642 543h1v1h-1zM699 543h1v1h-1zM193 544h1v1h-1zM465 544h1v1h-1zM507 544h2v1h-2zM581 544h2v1h-2zM642 544h1v1h-1zM700 544h1v1h-1zM192 545h1v1h-1zM466 545h2v1h-2zM506 545h1v1h-1zM583 545h1v1h-1zM641 545h1v1h-1zM701 545h1v1h-1zM125 546h2v1h-2zM191 546h1v1h-1zM468 546h1v1h-1zM505 546h1v1h-1zM584 546h1v1h-1zM640 546h1v1h-1zM701 546h1v1h-1zM122 547h3v1h-3zM127 547h2v1h-2zM190 547h1v1h-1zM469 547h2v1h-2zM504 547h1v1h-1zM585 547h2v1h-2zM639 547h1v1h-1zM702 547h1v1h-1zM120 548h2v1h-2zM129 548h2v1h-2zM189 548h1v1h-1zM471 548h2v1h-2zM503 548h1v1h-1zM587 548h1v1h-1zM639 548h1v1h-1zM703 548h1v1h-1zM117 549h3v1h-3zM131 549h2v1h-2zM189 549h1v1h-1zM473 549h1v1h-1zM501 549h2v1h-2zM588 549h1v1h-1zM638 549h1v1h-1zM703 549h1v1h-1zM114 550h3v1h-3zM133 550h1v1h-1zM188 550h1v1h-1zM474 550h2v1h-2zM500 550h1v1h-1zM589 550h1v1h-1zM637 550h1v1h-1zM704 550h1v1h-1zM112 551h2v1h-2zM134 551h2v1h-2zM187 551h1v1h-1zM476 551h1v1h-1zM499 551h1v1h-1zM590 551h1v1h-1zM636 551h1v1h-1zM705 551h1v1h-1zM110 552h2v1h-2zM136 552h2v1h-2zM186 552h1v1h-1zM477 552h2v1h-2zM498 552h1v1h-1zM591 552h1v1h-1zM635 552h1v1h-1zM705 552h1v1h-1zM108 553h2v1h-2zM138 553h2v1h-2zM185 553h1v1h-1zM479 553h2v1h-2zM496 553h2v1h-2zM592 553h1v1h-1zM635 553h1v1h-1zM706 553h1v1h-1zM106 554h2v1h-2zM140 554h1v1h-1zM184 554h1v1h-1zM481 554h2v1h-2zM495 554h1v1h-1zM593 554h1v1h-1zM634 554h1v1h-1zM707 554h1v1h-1zM104 555h2v1h-2zM141 555h1v1h-1zM183 555h1v1h-1zM483 555h2v1h-2zM494 555h1v1h-1zM594 555h1v1h-1zM633 555h1v1h-1zM707 555h1v1h-1zM55 556h17v1h-17zM102 556h2v1h-2zM142 556h2v1h-2zM182 556h1v1h-1zM485 556h2v1h-2zM492 556h2v1h-2zM595 556h1v1h-1zM632 556h1v1h-1zM708 556h1v1h-1zM811 556h2v1h-2zM51 557h4v1h-4zM72 557h2v1h-2zM100 557h2v1h-2zM144 557h1v1h-1zM181 557h1v1h-1zM487 557h2v1h-2zM491 557h1v1h-1zM596 557h1v1h-1zM632 557h1v1h-1zM709 557h1v1h-1zM807 557h4v1h-4zM813 557h2v1h-2zM48 558h3v1h-3zM74 558h2v1h-2zM97 558h3v1h-3zM145 558h1v1h-1zM179 558h2v1h-2zM489 558h2v1h-2zM597 558h1v1h-1zM631 558h1v1h-1zM709 558h1v1h-1zM804 558h3v1h-3zM815 558h2v1h-2zM44 559h4v1h-4zM76 559h3v1h-3zM93 559h4v1h-4zM146 559h1v1h-1zM178 559h1v1h-1zM598 559h1v1h-1zM630 559h1v1h-1zM710 559h1v1h-1zM800 559h4v1h-4zM817 559h2v1h-2zM42 560h2v1h-2zM79 560h2v1h-2zM90 560h3v1h-3zM147 560h2v1h-2zM177 560h1v1h-1zM599 560h1v1h-1zM628 560h2v1h-2zM711 560h1v1h-1zM798 560h2v1h-2zM819 560h2v1h-2zM41 561h1v1h-1zM81 561h2v1h-2zM86 561h4v1h-4zM149 561h1v1h-1zM176 561h1v1h-1zM600 561h1v1h-1zM626 561h2v1h-2zM711 561h1v1h-1zM797 561h1v1h-1zM821 561h2v1h-2zM40 562h1v1h-1zM83 562h3v1h-3zM150 562h1v1h-1zM174 562h2v1h-2zM601 562h1v1h-1zM624 562h2v1h-2zM712 562h1v1h-1zM796 562h1v1h-1zM823 562h2v1h-2zM38 563h2v1h-2zM151 563h2v1h-2zM173 563h1v1h-1zM602 563h3v1h-3zM622 563h2v1h-2zM713 563h1v1h-1zM795 563h1v1h-1zM825 563h2v1h-2zM37 564h1v1h-1zM153 564h1v1h-1zM172 564h1v1h-1zM605 564h4v1h-4zM620 564h2v1h-2zM713 564h1v1h-1zM794 564h1v1h-1zM827 564h2v1h-2zM36 565h1v1h-1zM154 565h4v1h-4zM170 565h2v1h-2zM609 565h5v1h-5zM618 565h2v1h-2zM714 565h1v1h-1zM793 565h1v1h-1zM829 565h1v1h-1zM35 566h1v1h-1zM158 566h7v1h-7zM169 566h1v1h-1zM614 566h4v1h-4zM715 566h1v1h-1zM792 566h1v1h-1zM830 566h2v1h-2zM34 567h1v1h-1zM165 567h4v1h-4zM715 567h1v1h-1zM791 567h1v1h-1zM832 567h1v1h-1zM33 568h1v1h-1zM716 568h1v1h-1zM790 568h1v1h-1zM833 568h2v1h-2zM31 569h2v1h-2zM717 569h1v1h-1zM789 569h1v1h-1zM835 569h2v1h-2zM30 570h1v1h-1zM718 570h1v1h-1zM788 570h1v1h-1zM837 570h1v1h-1zM29 571h1v1h-1zM718 571h1v1h-1zM787 571h1v1h-1zM838 571h2v1h-2zM28 572h1v1h-1zM719 572h1v1h-1zM786 572h1v1h-1zM840 572h1v1h-1zM26 573h2v1h-2zM720 573h1v1h-1zM785 573h1v1h-1zM841 573h2v1h-2zM25 574h1v1h-1zM721 574h1v1h-1zM784 574h1v1h-1zM843 574h1v1h-1zM23 575h2v1h-2zM721 575h1v1h-1zM783 575h1v1h-1zM844 575h1v1h-1zM22 576h1v1h-1zM722 576h1v1h-1zM782 576h1v1h-1zM845 576h2v1h-2zM20 577h2v1h-2zM723 577h1v1h-1zM781 577h1v1h-1zM847 577h1v1h-1zM18 578h2v1h-2zM724 578h1v1h-1zM780 578h1v1h-1zM848 578h2v1h-2zM17 579h1v1h-1zM724 579h1v1h-1zM779 579h1v1h-1zM850 579h1v1h-1zM15 580h2v1h-2zM725 580h1v1h-1zM778 580h1v1h-1zM851 580h1v1h-1zM14 581h1v1h-1zM726 581h1v1h-1zM777 581h1v1h-1zM852 581h2v1h-2zM727 582h1v1h-1zM776 582h1v1h-1zM854 582h1v1h-1zM727 583h1v1h-1zM775 583h1v1h-1zM855 583h2v1h-2zM728 584h1v1h-1zM774 584h1v1h-1zM857 584h2v1h-2zM729 585h2v1h-2zM773 585h1v1h-1zM859 585h2v1h-2zM731 586h1v1h-1zM772 586h1v1h-1zM861 586h1v1h-1zM732 587h1v1h-1zM771 587h1v1h-1zM862 587h2v1h-2zM733 588h2v1h-2zM770 588h1v1h-1zM864 588h2v1h-2zM735 589h1v1h-1zM768 589h2v1h-2zM866 589h2v1h-2zM736 590h2v1h-2zM766 590h2v1h-2zM868 590h1v1h-1zM738 591h1v1h-1zM764 591h2v1h-2zM869 591h2v1h-2zM739 592h1v1h-1zM763 592h1v1h-1zM871 592h2v1h-2zM740 593h2v1h-2zM761 593h2v1h-2zM873 593h2v1h-2zM742 594h4v1h-4zM759 594h2v1h-2zM875 594h2v1h-2zM746 595h7v1h-7zM757 595h2v1h-2zM877 595h2v1h-2zM753 596h4v1h-4zM879 596h2v1h-2zM881 597h5v1h-5zM886 598h7v1h-7zM893 599h4v1h-4z" fill="#ff0000" shape-rendering="crispEdges"/>
<g shape-rendering="crispEdges">
<rect x="1198" y="403" width="29" height="14" fill="#000"/>
<rect x="1198" y="592" width="33" height="14" fill="#ff0000"/>
</g>
<text x="431.5" y="17" font-size="16" fill="#000" font-weight="bold" >C2-057:&#160; Corn CBT (Comb) Cont Liq&#160; (Weekly bars)</text>
<text x="472.7" y="33.8" font-size="13.4" fill="#000" stroke="#000" stroke-width="0.12" textLength="299.6" lengthAdjust="spacingAndGlyphs">TradeNavigator.com © 1999-2008 All rights reserved</text>
<text x="4.5" y="495" font-size="10.8" fill="#000" stroke="#000" stroke-width="0.18" >TradeNavigator.com</text>
<text x="1202.5" y="60" font-size="11" fill="#000080" stroke="#000080" stroke-width="0.18" >800^0</text>
<text x="1202.5" y="101" font-size="11" fill="#000080" stroke="#000080" stroke-width="0.18" >750^0</text>
<text x="1202.5" y="143" font-size="11" fill="#000080" stroke="#000080" stroke-width="0.18" >700^0</text>
<text x="1202.5" y="185" font-size="11" fill="#000080" stroke="#000080" stroke-width="0.18" >650^0</text>
<text x="1202.5" y="226" font-size="11" fill="#000080" stroke="#000080" stroke-width="0.18" >600^0</text>
<text x="1202.5" y="268" font-size="11" fill="#000080" stroke="#000080" stroke-width="0.18" >550^0</text>
<text x="1202.5" y="309" font-size="11" fill="#000080" stroke="#000080" stroke-width="0.18" >500^0</text>
<text x="1202.5" y="351" font-size="11" fill="#000080" stroke="#000080" stroke-width="0.18" >450^0</text>
<text x="1202.5" y="392" font-size="11" fill="#000080" stroke="#000080" stroke-width="0.18" >400^0</text>
<text x="1202.5" y="434" font-size="11" fill="#000080" stroke="#000080" stroke-width="0.18" >350^0</text>
<text x="1202.5" y="475" font-size="11" fill="#000080" stroke="#000080" stroke-width="0.18" >300^0</text>
<text x="1202.3" y="520" font-size="11" fill="#000080" stroke="#000080" stroke-width="0.18" >100</text>
<text x="1202.3" y="564" font-size="11" fill="#000080" stroke="#000080" stroke-width="0.18" >50</text>
<text x="1202.3" y="608" font-size="11" fill="#000080" stroke="#000080" stroke-width="0.18" >0</text>
<g shape-rendering="crispEdges">
<rect x="1198" y="592" width="33" height="14" fill="#ff0000"/>
</g>
<defs><clipPath id="c1"><rect x="1198" y="592" width="33" height="14"/></clipPath><clipPath id="c2"><rect x="1198" y="403" width="29" height="14"/></clipPath></defs>
<text x="1197.2" y="603" font-size="11" fill="#fff" stroke="#fff" stroke-width="0.18" clip-path="url(#c1)" letter-spacing="-0.1">5.9561</text>
<text x="1197.2" y="414" font-size="11" fill="#fff" stroke="#fff" stroke-width="0.18" clip-path="url(#c2)" letter-spacing="-0.1">373^4</text>
<text x="61.7" y="625" font-size="11" fill="#000080" stroke="#000080" stroke-width="0.18" >Sep-07</text>
<text x="117.8" y="625" font-size="11" fill="#000080" stroke="#000080" stroke-width="0.18" >Oct-07</text>
<text x="174.2" y="625" font-size="11" fill="#000080" stroke="#000080" stroke-width="0.18" >Nov-07</text>
<text x="244.4" y="625" font-size="11" fill="#000080" stroke="#000080" stroke-width="0.18" >Dec-07</text>
<text x="300.3" y="625" font-size="11" fill="#000080" stroke="#000080" stroke-width="0.18" >Jan-08</text>
<text x="356.1" y="625" font-size="11" fill="#000080" stroke="#000080" stroke-width="0.18" >Feb-08</text>
<text x="426.0" y="625" font-size="11" fill="#000080" stroke="#000080" stroke-width="0.18" >Mar-08</text>
<text x="482.5" y="625" font-size="11" fill="#000080" stroke="#000080" stroke-width="0.18" >Apr-08</text>
<text x="537.8" y="625" font-size="11" fill="#000080" stroke="#000080" stroke-width="0.18" >May-08</text>
<text x="608.3" y="625" font-size="11" fill="#000080" stroke="#000080" stroke-width="0.18" >Jun-08</text>
<text x="664.2" y="625" font-size="11" fill="#000080" stroke="#000080" stroke-width="0.18" >Jul-08</text>
<text x="720.5" y="625" font-size="11" fill="#000080" stroke="#000080" stroke-width="0.18" >Aug-08</text>
<text x="790.0" y="625" font-size="11" fill="#000080" stroke="#000080" stroke-width="0.18" >Sep-08</text>
<text x="846.4" y="625" font-size="11" fill="#000080" stroke="#000080" stroke-width="0.18" >Oct-08</text>
<text x="916.3" y="625" font-size="11" fill="#000080" stroke="#000080" stroke-width="0.18" >Nov-08</text>
<text x="972.2" y="625" font-size="11" fill="#000080" stroke="#000080" stroke-width="0.18" >Dec-08</text>
<text x="1028.1" y="625" font-size="11" fill="#000080" stroke="#000080" stroke-width="0.18" >Jan-09</text>
<text x="1098.2" y="625" font-size="11" fill="#000080" stroke="#000080" stroke-width="0.18" >Feb-09</text>
<text x="1153.9" y="625" font-size="11" fill="#000080" stroke="#000080" stroke-width="0.18" >Mar-09</text>
<text x="915.7" y="58" font-size="15.3" fill="#0000ff" font-weight="bold" stroke="#0000ff" stroke-width="0.35" textLength="40.2" lengthAdjust="spacingAndGlyphs">803^0</text>
<text x="1138.5" y="411" font-size="15" fill="#000" stroke="#000" stroke-width="0.18" letter-spacing="0.3">378^4</text>
<text x="943.8" y="290" font-size="15.3" fill="#ff0000" font-weight="bold" stroke="#ff0000" stroke-width="0.35" textLength="40.2" lengthAdjust="spacingAndGlyphs">523^6</text>
<text x="943.8" y="310" font-size="15.3" fill="#b00000" font-weight="bold" stroke="#b00000" stroke-width="0.35" textLength="40.2" lengthAdjust="spacingAndGlyphs">500^0</text>
<text x="943.8" y="322" font-size="15.3" fill="#ff0000" font-weight="bold" stroke="#ff0000" stroke-width="0.35" textLength="40.2" lengthAdjust="spacingAndGlyphs">485^6</text>
<text x="943.8" y="337" font-size="15.3" fill="#ff0000" font-weight="bold" stroke="#ff0000" stroke-width="0.35" textLength="40.2" lengthAdjust="spacingAndGlyphs">467^6</text>
<text x="943.8" y="354" font-size="15.3" fill="#ff0000" font-weight="bold" stroke="#ff0000" stroke-width="0.35" textLength="40.2" lengthAdjust="spacingAndGlyphs">447^4</text>
<text x="971.7" y="415" font-size="15.3" fill="#0000ff" font-weight="bold" stroke="#0000ff" stroke-width="0.35" textLength="40.2" lengthAdjust="spacingAndGlyphs">374^0</text>
<text x="680.7" y="438" font-size="15.3" fill="#0000ff" font-weight="bold" stroke="#0000ff" stroke-width="0.35" textLength="40.2" lengthAdjust="spacingAndGlyphs">346^2</text>
<text x="1055.7" y="446" font-size="15.3" fill="#0000ff" font-weight="bold" stroke="#0000ff" stroke-width="0.35" textLength="40.2" lengthAdjust="spacingAndGlyphs">336^4</text>
<text x="971.7" y="455.8" font-size="15.3" fill="#0000ff" font-weight="bold" stroke="#0000ff" stroke-width="0.35" textLength="40.2" lengthAdjust="spacingAndGlyphs">324^0</text>
<text x="1055.7" y="484" font-size="15.3" fill="#0000ff" font-weight="bold" stroke="#0000ff" stroke-width="0.35" textLength="40.2" lengthAdjust="spacingAndGlyphs">291^2</text>
<text x="971.7" y="498" font-size="15.3" fill="#0000ff" font-weight="bold" stroke="#0000ff" stroke-width="0.35" textLength="40.2" lengthAdjust="spacingAndGlyphs">274^0</text>
<text x="1048.8" y="509" font-size="11" fill="#ff0000" font-weight="bold" letter-spacing="0.04">StochD (3)</text>
<text x="1113.5" y="509" font-size="11" fill="#0000ff" font-weight="bold" >StochK (5,3)</text>
<rect x="0" y="497" width="1245" height="3" fill="#e0e0e0" shape-rendering="crispEdges"/>
<defs>
<linearGradient id="gT" x1="0" y1="0" x2="0" y2="1"><stop offset="0" stop-color="#b8b0d8"/><stop offset="0.15" stop-color="#fff27a"/><stop offset="0.5" stop-color="#e6c417"/><stop offset="0.85" stop-color="#7a5c00"/><stop offset="1" stop-color="#3a2c00"/></linearGradient>
<linearGradient id="gA" x1="0" y1="0" x2="1" y2="0"><stop offset="0" stop-color="#c9a30c"/><stop offset="0.35" stop-color="#ffe94a"/><stop offset="0.65" stop-color="#e8c818"/><stop offset="1" stop-color="#b89400"/></linearGradient>
<radialGradient id="gR" cx="19.2" cy="15.1" r="18.6" gradientUnits="userSpaceOnUse"><stop offset="0.74" stop-color="#f6dc30"/><stop offset="0.88" stop-color="#e8c818"/><stop offset="1" stop-color="#8a6c00"/></radialGradient>
</defs>
<g>
<path d="M3.3 24.6 A18.7 18.7 0 0 0 35.1 24.6 L31.6 22.3 A14.4 14.4 0 0 1 6.8 22.3 Z" fill="url(#gR)" stroke="#9a7a00" stroke-width="0.5"/>
<path d="M17.2 12 L9.4 22.6 M21.3 10 L28.6 22.8 M11 21.0 L27.4 21.0" stroke="#ecd030" stroke-width="1.1" fill="none" stroke-linecap="round"/>
<path d="M24.6 11.4 L27.2 18.8" stroke="#e2c01c" stroke-width="1.7" stroke-linecap="round"/>
<circle cx="25.3" cy="10.6" r="1.1" fill="#d8b414"/>
<rect x="4.1" y="11.2" width="11.6" height="5.8" rx="0.8" fill="url(#gT)"/>
<path d="M16.6 7 L20.9 7 L21.1 24 L22.7 26 L23.9 34.6 L14.2 34.6 L15.3 26 L16.5 24 Z" fill="url(#gA)" stroke="#b89400" stroke-width="0.4"/>
<path d="M19 2.8 L21.2 4.4 L23.4 6.2 L21.4 8.4 L16.6 8.4 L15.2 6.4 L17 4.4 Z" fill="#ecce22" stroke="#a88600" stroke-width="0.4"/>
<path d="M21.6 6.0 L23.5 6.2 L23.3 8.4 L21.8 8.2 Z" fill="#4a3a00"/>
<path d="M17.6 4.4 L19 3.4 L20.2 4.4 Z" fill="#fff27a"/>
<circle cx="25.6" cy="33.3" r="1.3" fill="#e8c818" stroke="#b89400" stroke-width="0.4"/>
<rect x="16.2" y="30" width="5.6" height="1.2" fill="#f8e88a" opacity="0.7"/>
</g>
</svg></body></html>
